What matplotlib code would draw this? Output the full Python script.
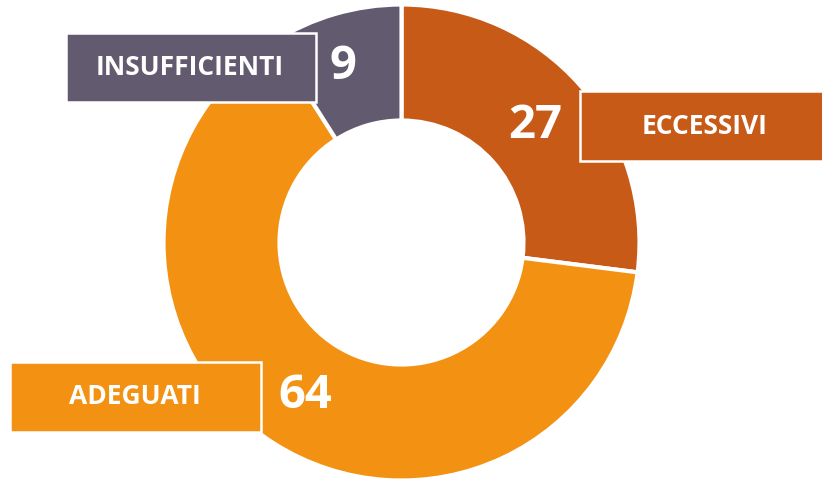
import matplotlib
matplotlib.use("Agg")
import matplotlib.pyplot as plt
from matplotlib.patches import Rectangle

categories = ["ECCESSIVI", "ADEGUATI", "INSUFFICIENTI"]
values = [27, 64, 9]
colors = ["#C85A18", "#F39212", "#625A6E"]

W, H = 822, 482
fig = plt.figure(figsize=(W / 100, H / 100), dpi=100)
ax = fig.add_axes([0, 0, 1, 1])

cx, cy, R = 401.5, 239.5, 238
ring = 116
ax.pie(values, colors=colors, startangle=90, counterclock=False,
       center=(cx, cy), radius=R, frame=True,
       wedgeprops=dict(width=ring, edgecolor="white", linewidth=3))
ax.set_xlim(0, W)
ax.set_ylim(0, H)
ax.set_aspect("equal")
ax.axis("off")

font = ["Open Sans", "DejaVu Sans"]

# label boxes: (x0, y0_top_pixel, width, height), label centre x, number centre x
boxes = {
    "ECCESSIVI": ((580, 91, 250, 70), 705, 535),
    "ADEGUATI": ((10, 362, 251, 70), 135, 305),
    "INSUFFICIENTI": ((66, 33, 250, 69), 190, 343),
}

for cat, val, col in zip(categories, values, colors):
    (x0, ytop, w, h), lx, nx = boxes[cat]
    y0 = H - ytop - h
    ax.add_patch(Rectangle((x0, y0), w, h, facecolor=col, edgecolor="white",
                           linewidth=1.8, zorder=5, clip_on=False))
    yc = y0 + h / 2
    ax.text(lx, yc, cat, color="white", fontsize=19, fontweight="bold",
            family=font, ha="center", va="center", zorder=6)
    ax.text(nx, yc + 1, str(val), color="white", fontsize=34, fontweight="bold",
            family=font, ha="center", va="center", zorder=6)

fig.savefig("out.png", dpi=100)
